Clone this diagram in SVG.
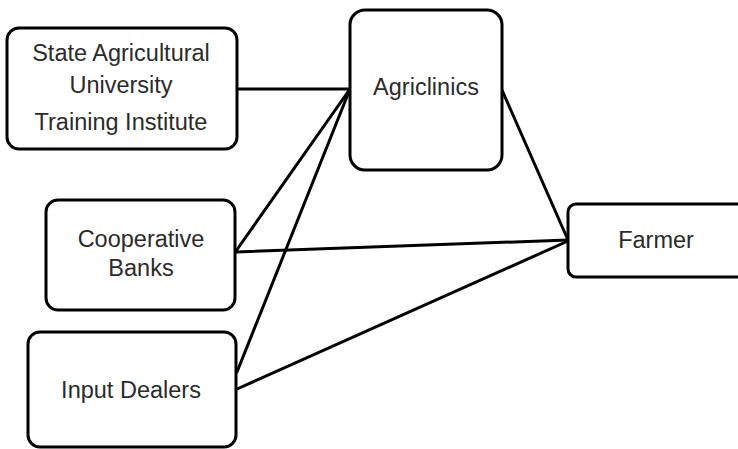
<svg xmlns="http://www.w3.org/2000/svg" width="738" height="449" viewBox="0 0 738 449">
<style>
.box{fill:#fff;stroke:#000;stroke-width:3}
.lbl{font-family:"Liberation Sans",Arial,sans-serif;font-size:23.5px;fill:#2b2b2b;text-anchor:middle}
.con line{stroke:#000;stroke-width:3;stroke-linecap:round}
</style>
<rect width="738" height="449" fill="#fff"/>
<g class="con" id="connectors">
<line x1="237" y1="89" x2="350" y2="89"/>
<line x1="236" y1="251" x2="350" y2="89"/>
<line x1="237" y1="372" x2="350" y2="89"/>
<line x1="502" y1="90" x2="568" y2="240"/>
<line x1="236" y1="252" x2="568" y2="240"/>
<line x1="237" y1="389" x2="568" y2="241"/>
</g>
<g id="sau">
<rect class="box" x="7" y="28" width="230" height="121" rx="12"/>
<text class="lbl" x="121" y="61">State Agricultural</text>
<text class="lbl" x="121" y="93">University</text>
<text class="lbl" x="121" y="130">Training Institute</text>
</g>
<g id="agriclinics">
<rect class="box" x="350" y="10" width="152" height="160" rx="15"/>
<text class="lbl" x="426" y="95">Agriclinics</text>
</g>
<g id="coop">
<rect class="box" x="46" y="200" width="189" height="110" rx="12"/>
<text class="lbl" x="141" y="247">Cooperative</text>
<text class="lbl" x="141" y="276">Banks</text>
</g>
<g id="input">
<rect class="box" x="28" y="332" width="208" height="115" rx="12"/>
<text class="lbl" x="131" y="398">Input Dealers</text>
</g>
<g id="farmer">
<rect class="box" x="568" y="204" width="178" height="73" rx="8"/>
<text class="lbl" x="656" y="248">Farmer</text>
</g>
</svg>
